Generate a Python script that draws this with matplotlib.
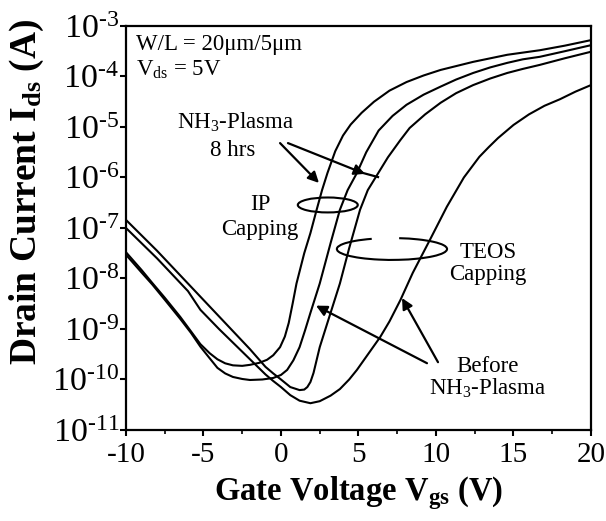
import numpy as np
import matplotlib.pyplot as plt
from matplotlib.patches import Ellipse, Arc
from matplotlib.ticker import FixedLocator, MultipleLocator, NullLocator

plt.rcParams['font.family'] = ['Liberation Serif', 'DejaVu Serif']
plt.rcParams['mathtext.fontset'] = 'custom'
plt.rcParams['mathtext.rm'] = 'Liberation Serif'
plt.rcParams['mathtext.it'] = 'Liberation Serif:italic'
plt.rcParams['mathtext.bf'] = 'Liberation Serif:bold'

# values: gate voltage (V) and log10 of drain current (A)
# IP capping, after NH3 plasma 8 hrs
vg_ip_after = [-10, -9, -8.3, -7.5, -6.5, -5.8, -5.2, -4.6, -4.1, -3.6, -3.1, -2.5, -2.0,
               -1.4, -0.9, -0.5, -0.06, 0.25, 0.5, 0.75, 1.0, 1.5, 1.9, 2.3, 2.65, 3.0,
               3.5, 4.0, 4.5, 5.2, 6.0, 7.0, 8.1, 9.2, 10.3, 12.4, 14.6, 16.7, 18.3, 20]
log_ip_after = [-7.48, -7.83, -8.09, -8.38, -8.76, -9.05, -9.3, -9.48, -9.6, -9.68, -9.72,
                -9.73, -9.71, -9.67, -9.61, -9.52, -9.36, -9.15, -8.88, -8.5, -8.1, -7.5,
                -7.1, -6.64, -6.25, -5.91, -5.48, -5.17, -4.95, -4.72, -4.5, -4.28, -4.11,
                -3.98, -3.87, -3.71, -3.57, -3.48, -3.39, -3.28]

# IP capping, before NH3 plasma
vg_ip_before = [-10, -9, -8.3, -7.5, -6.5, -5.8, -5.2, -4.6, -4.1, -3.6, -3.1, -2.5, -2.0,
                -1.2, -0.5, 0, 0.4, 0.8, 1.2, 1.55, 1.9, 2.5, 3.2, 3.8, 4.3, 4.9, 5.5,
                6.3, 7.2, 8.1, 9.2, 10.3, 11.3, 12.4, 13.5, 14.6, 15.6, 16.7, 18.3, 20]
log_ip_before = [-7.53, -7.88, -8.12, -8.42, -8.8, -9.08, -9.35, -9.58, -9.77, -9.88,
                 -9.95, -9.99, -10.01, -10.0, -9.97, -9.91, -9.81, -9.62, -9.36, -9.03,
                 -8.68, -8.1, -7.3, -6.64, -6.25, -5.91, -5.5, -5.07, -4.78, -4.56, -4.36,
                 -4.2, -4.06, -3.93, -3.82, -3.73, -3.66, -3.61, -3.5, -3.38]

# TEOS capping, after NH3 plasma 8 hrs
vg_teos_after = [-10, -8, -6, -4, -2, -1, -0.5, 0, 0.6, 1.2, 1.5, 1.7, 1.9, 2.1, 2.5, 3.2,
                 3.8, 4.4, 5.1, 5.6, 6.2, 6.9, 7.7, 8.3, 9.3, 10.3, 11.3, 12.4, 13.5, 14.6,
                 15.6, 16.7, 18.3, 20]
log_teos_after = [-6.84, -7.45, -8.1, -8.75, -9.4, -9.75, -9.88, -10.0, -10.15, -10.21,
                  -10.2, -10.15, -10.05, -9.87, -9.36, -8.68, -8.1, -7.4, -6.64, -6.25,
                  -5.95, -5.6, -5.26, -5.02, -4.75, -4.52, -4.33, -4.17, -4.04, -3.93,
                  -3.85, -3.77, -3.64, -3.51]

# TEOS capping, before NH3 plasma
vg_teos_before = [-10, -8, -6, -5.2, -4, -2, -1, -0.5, 0, 0.6, 1.2, 1.9, 2.5, 3.2, 3.8,
                  4.4, 4.9, 5.5, 6.4, 7.0, 7.7, 8.5, 9.6, 10.7, 11.8, 12.8, 13.4, 14.0,
                  15.0, 16.0, 17.0, 18.0, 19.0, 20]
log_teos_before = [-7.0, -7.6, -8.25, -8.62, -9.0, -9.6, -9.9, -10.03, -10.15, -10.31,
                   -10.42, -10.47, -10.43, -10.32, -10.19, -10.0, -9.81, -9.55, -9.16,
                   -8.85, -8.43, -7.89, -7.24, -6.58, -6.0, -5.59, -5.4, -5.22, -4.96,
                   -4.75, -4.58, -4.45, -4.3, -4.17]

x_ticks = [-10, -5, 0, 5, 10, 15, 20]
y_exps = [-11, -10, -9, -8, -7, -6, -5, -4, -3]

fig = plt.figure(figsize=(6.06, 5.21), dpi=100)
ax = fig.add_axes([0.2079, 0.1747, 0.7673, 0.7754])

for vg, lg in [(vg_ip_after, log_ip_after), (vg_ip_before, log_ip_before),
               (vg_teos_after, log_teos_after), (vg_teos_before, log_teos_before)]:
    ax.plot(vg, 10.0 ** np.array(lg), color='black', lw=1.5, solid_joinstyle='round')

ax.set_yscale('log')
ax.set_xlim(-10, 20)
ax.set_ylim(1e-11, 1e-3)

ax.xaxis.set_major_locator(FixedLocator(x_ticks))
ax.xaxis.set_minor_locator(MultipleLocator(2.5))
ax.set_xticklabels([str(t) for t in x_ticks])
ax.yaxis.set_major_locator(FixedLocator([10.0 ** e for e in y_exps]))
ax.yaxis.set_minor_locator(NullLocator())
ax.set_yticklabels([r'$\mathregular{10^{\text{-}%d}}$' % -e for e in y_exps])

ax.tick_params(axis='x', which='major', direction='out', length=4, width=1.5,
               labelsize=21, pad=5)
ax.tick_params(axis='x', which='minor', direction='out', length=3, width=1.2)
ax.tick_params(axis='y', which='major', direction='out', length=4, width=1.5,
               labelsize=24.5, pad=1)
for s in ax.spines.values():
    s.set_linewidth(1.6)

fig.text(0.045, 0.632, r'Drain Current I$_{\mathbf{ds}}$ (A)', rotation=90,
         ha='center', va='center', fontsize=27, fontweight='bold')
fig.text(0.592, 0.054, r'Gate Voltage V$_{\mathbf{gs}}$ (V)',
         ha='center', va='center', fontsize=23.5, fontweight='bold')

# annotations
fs = 16.5
ax.text(0.022, 0.953, 'W/L = 20\u03bcm/5\u03bcm', transform=ax.transAxes,
        fontsize=fs, va='center', ha='left')
ax.text(0.022, 0.891, r'V$_{\mathregular{ds}}$ = 5V', transform=ax.transAxes,
        fontsize=fs, va='center', ha='left')

ax.text(-2.9, 1.26e-5, r'NH$_{\mathregular{3}}$-Plasma', fontsize=fs, ha='center', va='center')
ax.text(-3.1, 3.5e-6, '8 hrs', fontsize=fs, ha='center', va='center')
ax.text(-1.35, 2.9e-7, 'IP', fontsize=fs, ha='center', va='center')
ax.text(-1.35, 9.5e-8, 'Capping', fontsize=fs, ha='center', va='center')
ax.text(13.4, 3.3e-8, 'TEOS', fontsize=fs, ha='center', va='center')
ax.text(13.35, 1.2e-8, 'Capping', fontsize=fs, ha='center', va='center')
ax.text(13.35, 1.8e-10, 'Before', fontsize=fs, ha='center', va='center')
ax.text(13.35, 6.8e-11, r'NH$_{\mathregular{3}}$-Plasma', fontsize=fs, ha='center', va='center')

arrow = dict(arrowstyle='-|>', color='black', lw=1.6, mutation_scale=16,
             shrinkA=0, shrinkB=0)
ax.annotate('', xy=(2.45, 7.8e-7), xytext=(-0.06, 4.8e-6), arrowprops=arrow)
ax.annotate('', xy=(5.42, 1.18e-6), xytext=(0.45, 4.8e-6), arrowprops=arrow)
ax.plot([5.0, 6.26], [1.3e-6, 1.02e-6], color='black', lw=1.6)
ax.annotate('', xy=(7.81, 4.1e-9), xytext=(10.13, 2.2e-10), arrowprops=arrow)
ax.annotate('', xy=(2.26, 2.9e-9), xytext=(9.42, 2.1e-10), arrowprops=arrow)

ax.add_patch(Ellipse((0.434, 0.557), 0.129, 0.037, transform=ax.transAxes,
                     fill=False, lw=1.5, color='black'))
ax.add_patch(Arc((0.572, 0.448), 0.237, 0.054, transform=ax.transAxes,
                 theta1=150, theta2=420, lw=1.5, color='black'))

fig.savefig('out.png', dpi=100)
